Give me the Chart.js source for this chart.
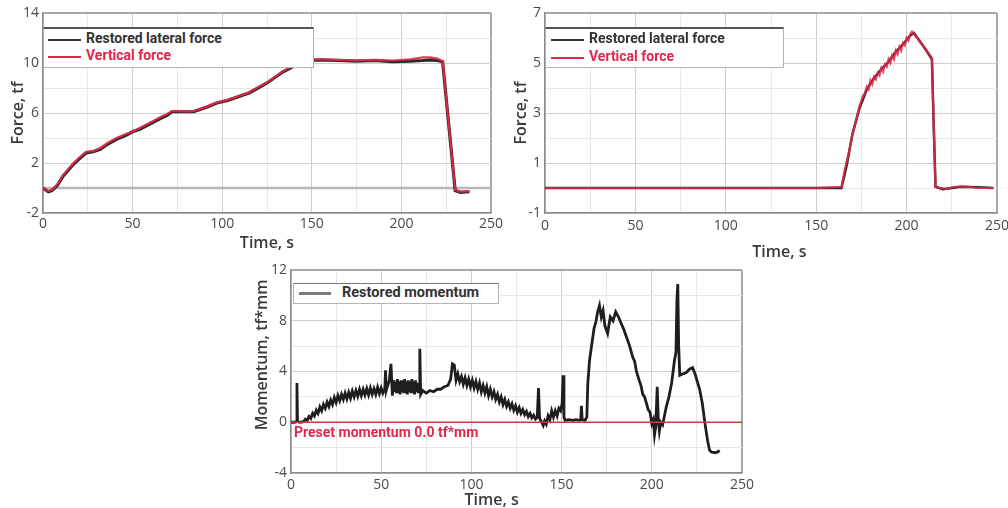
<!DOCTYPE html>
<html>
<head>
<meta charset="utf-8">
<script src="https://cdn.jsdelivr.net/npm/chart.js@4.4.1/dist/chart.umd.min.js"></script>
<style>
  body { margin: 0; width: 1008px; height: 508px; overflow: hidden; background: #fff; }
  canvas { position: absolute; }
  .legend { position: absolute; background: #fff; border: 1px solid #b4b4b4; border-top: 2px solid #555; box-sizing: border-box; }
  .item { position: absolute; white-space: nowrap; font-family: Roboto, sans-serif; font-weight: bold; }
  .swatch { position: absolute; height: 2px; }
  .note { position: absolute; white-space: nowrap; font: bold 14px Roboto, sans-serif; color: #e0284a; }
</style>
</head>
<body>
<canvas id="lateralChart" width="510" height="255" style="left:0;top:0"></canvas>
<canvas id="verticalChart" width="520" height="262" style="left:500px;top:0"></canvas>
<canvas id="momentChart" width="520" height="253" style="left:240px;top:255px"></canvas>

<div class="legend" style="left:43px;top:27px;width:271px;height:41px">
  <div class="swatch" style="left:4px;top:10px;width:33px;background:#333"></div>
  <div class="item" style="left:42px;top:1px;font-size:14px;color:#333">Restored lateral force</div>
  <div class="swatch" style="left:4px;top:27px;width:33px;background:#e0284a"></div>
  <div class="item" style="left:42px;top:18px;font-size:14px;color:#e0284a">Vertical force</div>
</div>
<div class="legend" style="left:545px;top:27px;width:239px;height:41px">
  <div class="swatch" style="left:5px;top:10px;width:33px;background:#333"></div>
  <div class="item" style="left:43px;top:1px;font-size:14px;color:#333">Restored lateral force</div>
  <div class="swatch" style="left:5px;top:28px;width:33px;background:#e0284a"></div>
  <div class="item" style="left:43px;top:19px;font-size:14px;color:#e0284a">Vertical force</div>
</div>
<div class="legend" style="left:293px;top:283px;width:206px;height:21px;border-top:1px solid #777">
  <div class="swatch" style="left:5px;top:8px;width:32px;height:3px;background:#7a7a7a"></div>
  <div class="item" style="left:48px;top:0px;font-size:14.5px;color:#333">Restored momentum</div>
</div>
<div class="note" style="left:294px;top:424px">Preset momentum 0.0 tf*mm</div>

<script>
// Time (s) / value pairs
const lateralForce1 = [
  [0, 0], [3, -0.3], [5, -0.2], [8, 0.2], [11, 0.9], [14, 1.4], [17, 1.9], [20, 2.3], [24, 2.8],
  [28, 2.9], [32, 3.1], [36, 3.5], [41, 3.9], [46, 4.2], [50, 4.5], [54, 4.7], [58, 5.0], [62, 5.3],
  [66, 5.6], [69, 5.8], [72, 6.1], [76, 6.1], [80, 6.1], [84, 6.1], [88, 6.3], [92, 6.5], [97, 6.8],
  [103, 7.0], [109, 7.3], [115, 7.6], [120, 8.0], [125, 8.4], [130, 8.9], [134, 9.3], [138, 9.6],
  [143, 10.0], [148, 10.2], [155, 10.25], [165, 10.2], [175, 10.15], [185, 10.2], [195, 10.1],
  [205, 10.15], [212, 10.2], [216, 10.25], [220, 10.2], [223, 10.1], [230, -0.2], [233, -0.35], [238, -0.3]
];
const verticalForce1 = [
  [0, 0], [3, -0.25], [5, -0.15], [8, 0.3], [11, 1.0], [14, 1.5], [17, 2.0], [20, 2.4], [24, 2.9],
  [28, 2.95], [32, 3.2], [36, 3.6], [41, 4.0], [46, 4.3], [50, 4.5], [54, 4.8], [58, 5.1], [62, 5.4],
  [66, 5.7], [69, 5.9], [72, 6.15], [76, 6.15], [80, 6.1], [84, 6.15], [88, 6.35], [92, 6.55], [97, 6.85],
  [103, 7.05], [109, 7.35], [115, 7.65], [120, 8.05], [125, 8.45], [130, 8.95], [134, 9.35], [138, 9.65],
  [143, 10.05], [148, 10.25], [155, 10.3], [165, 10.25], [175, 10.2], [185, 10.25], [195, 10.2],
  [205, 10.3], [212, 10.45], [216, 10.45], [220, 10.35], [223, 10.15], [230, -0.15], [233, -0.3], [238, -0.25]
];
const zeroLine1 = [[0, 0], [250, 0]];

const verticalForce2 = [
  [0, 0], [40, 0], [80, 0], [120, 0], [150, 0], [164, 0.05], [166, 0.8], [168, 1.4], [170, 2.1],
  [172, 2.7], [174, 3.3], [176, 3.7], [177, 3.8], [178, 4.05], [179, 3.95], [180, 4.3], [181, 4.15],
  [182, 4.45], [183, 4.35], [184, 4.6], [185, 4.5], [186, 4.8], [187, 4.65], [188, 4.95], [189, 4.85],
  [190, 5.15], [191, 5.0], [192, 5.3], [193, 5.15], [194, 5.5], [195, 5.35], [196, 5.65], [197, 5.5],
  [198, 5.8], [199, 5.7], [200, 6.0], [201, 5.9], [202, 6.15], [203, 6.25], [204, 6.15], [206, 6.0],
  [208, 5.8], [210, 5.6], [212, 5.4], [214, 5.2], [215, 2.5], [216, 0.05], [218, 0], [222, -0.03],
  [226, 0.04], [230, 0.06], [234, 0.05], [238, 0.02], [242, 0], [248, 0]
];
const lateralForce2 = [
  [0, 0], [50, 0], [100, 0], [150, 0], [164, 0], [167, 0.95], [170, 2.15], [174, 3.2], [178, 3.95],
  [182, 4.4], [186, 4.75], [190, 5.05], [194, 5.45], [198, 5.75], [202, 6.1], [204, 6.2], [206, 6.0],
  [210, 5.6], [214, 5.15], [215, 2.5], [216, 0.05], [220, -0.05], [230, 0.05], [240, 0.03], [248, 0]
];

const momentum3 = [
  [0, 0], [2, 0], [3, 0.05], [3.3, 3.1], [3.6, 0.05], [5, 0], [7, 0.05], [8, 0.25], [9, 0.15],
  [10, 0.45], [11, 0.3], [12, 0.7], [13, 0.5], [14, 0.95], [15, 0.7], [16, 1.2], [17, 0.9], [18, 1.4],
  [19, 1.1], [20, 1.6], [21, 1.25], [22, 1.75], [23, 1.4], [24, 1.95], [25, 1.55], [26, 2.1], [27, 1.7],
  [28, 2.2], [29, 1.8], [30, 2.3], [31, 1.85], [32, 2.35], [33, 1.9], [34, 2.45], [35, 2.0], [36, 2.5],
  [37, 2.05], [38, 2.6], [39, 2.1], [40, 2.6], [41, 2.15], [42, 2.65], [43, 2.15], [44, 2.7], [45, 2.2],
  [46, 2.65], [47, 2.2], [48, 2.75], [49, 2.25], [50, 2.7], [51, 2.3], [52, 2.6], [52.4, 4.1], [52.8, 2.5],
  [53.6, 2.9], [54.5, 3.3], [55.4, 4.6], [56.2, 2.1], [57, 3.3], [57.5, 2.4], [58, 3.2], [58.5, 2.3],
  [59, 3.4], [59.5, 2.3], [60, 3.2], [60.5, 2.2], [61, 3.3], [61.5, 2.4], [62, 3.3], [62.5, 2.3],
  [63, 3.4], [63.5, 2.3], [64, 3.2], [64.5, 2.2], [65, 3.3], [65.5, 2.4], [66, 3.2], [66.5, 2.3],
  [67, 3.4], [67.5, 2.3], [68, 3.2], [68.5, 2.2], [69, 3.3], [69.5, 2.4], [70, 3.1], [70.5, 2.3],
  [71, 3.0], [71.4, 5.8], [71.9, 2.2], [73, 2.5], [75, 2.3], [77, 2.5], [79, 2.4], [81, 2.6],
  [83, 2.6], [85, 2.8], [87, 2.9], [88.5, 3.4], [89.5, 4.6], [90.5, 4.5], [91.5, 3.3], [92.5, 3.8],
  [93.5, 3.2], [94.5, 3.6], [95.5, 3.0], [96.5, 3.5], [97.5, 2.9], [98.5, 3.4], [99.5, 2.8], [100.5, 3.3],
  [101.5, 2.7], [102.5, 3.2], [103.5, 2.6], [104.5, 3.1], [105.5, 2.4], [106.5, 2.9], [107.5, 2.3],
  [108.5, 2.8], [109.5, 2.1], [110.5, 2.6], [111.5, 2.0], [112.5, 2.4], [113.5, 1.8], [114.5, 2.2],
  [115.5, 1.6], [116.5, 2.0], [117.5, 1.4], [118.5, 1.8], [119.5, 1.25], [120.5, 1.6], [121.5, 1.1],
  [122.5, 1.45], [123.5, 0.95], [124.5, 1.3], [125.5, 0.8], [126.5, 1.15], [127.5, 0.7], [128.5, 1.0],
  [129.5, 0.6], [130.5, 0.85], [131.5, 0.45], [132.5, 0.7], [133.5, 0.35], [134.5, 0.55], [135.5, 0.25],
  [136.5, 0.4], [137.2, 2.7], [137.8, 0.3], [139, 0.0], [139.8, -0.25], [140.6, 0.1], [141.5, -0.15],
  [142.5, 0.5], [143.5, 0.2], [144.5, 0.9], [145.5, 0.4], [146.5, 0.9], [147.5, 0.5], [148.5, 1.1],
  [149.5, 0.9], [150.3, 1.5], [150.8, 3.7], [151.3, 0.4], [152, 0.15], [154, 0.2], [156, 0.15],
  [158, 0.2], [160, 0.15], [160.6, 0.2], [161, 1.3], [161.4, 0.2], [163, 0.15], [164, 0.4], [164.5, 3.0],
  [165.5, 4.9], [167, 6.4], [168, 7.4], [169, 7.9], [170, 8.7], [171, 9.2], [172, 8.3], [173, 8.8],
  [174, 7.6], [175.5, 7.0], [177, 8.3], [178.5, 8.0], [180, 8.7], [181.5, 8.3], [183, 7.8], [184.5, 7.3],
  [186, 6.7], [187.5, 6.1], [188.5, 5.6], [189.5, 5.1], [190.5, 4.8], [191.5, 4.0], [193, 3.3],
  [194, 2.9], [195, 2.2], [196, 2.0], [197, 1.5], [198, 1.0], [199, 0.8], [200, -0.1], [200.8, 0.2],
  [201.5, -1.0], [202.2, -0.3], [203, 2.8], [203.6, 0.2], [204.2, -0.7], [205, 0.0], [206, -0.2],
  [207, 0.5], [208, 1.2], [209.5, 2.0], [211, 3.1], [212.6, 4.9], [213.4, 5.5], [213.9, 9.5],
  [214.4, 10.9], [214.9, 6.0], [215.5, 3.7], [217, 3.8], [219, 3.9], [221, 4.2], [222.6, 4.3],
  [224, 3.8], [226.5, 2.6], [228, 1.5], [229, 0.4], [230, -0.6], [231, -1.5], [232, -2.2],
  [233, -2.35], [235, -2.4], [236.5, -2.35], [237.5, -2.2]
];
const presetMomentum3 = [[0, 0], [250, 0]];

const tickFont = { family: "Open Sans", size: 14 };
const titleFont = { family: "Open Sans", size: 16, weight: "600", lineHeight: 1 };

function toPoints(pairs) {
  return pairs.map(([x, y]) => ({ x: x, y: y }));
}

function gridColor(isMajor, isEdge) {
  if (isEdge) return "#a8a8a8";
  return isMajor ? "#cfcfcf" : "#e8e8e8";
}

function buildChart(id, datasets, cfg) {
  new Chart(document.getElementById(id), {
    type: "line",
    data: { datasets: datasets },
    options: {
      responsive: false,
      animation: false,
      events: [],
      layout: { padding: cfg.padding },
      plugins: { legend: { display: false }, tooltip: { enabled: false } },
      elements: { point: { radius: 0 }, line: { tension: 0 } },
      scales: {
        x: {
          type: "linear",
          min: 0,
          max: 250,
          afterFit: (s) => { s.height = cfg.xHeight; },
          ticks: {
            stepSize: 25, autoSkip: false, maxRotation: 0, padding: cfg.xTickPad,
            color: "#4a4a4a", font: tickFont,
            callback: (v) => (v % 50 === 0 ? v : "")
          },
          grid: {
            drawTicks: false,
            color: (c) => gridColor(c.tick.value % 50 === 0, c.tick.value === 250),
            lineWidth: (c) => (c.tick.value === 250 ? 2 : 1)
          },
          border: { color: "#8a8a8a", width: 1.5 },
          title: {
            display: true, text: cfg.xTitle, color: "#3a3a3a", font: titleFont,
            padding: { top: 0, bottom: cfg.xTitlePad }
          }
        },
        y: {
          min: cfg.yMin,
          max: cfg.yMax,
          afterFit: (s) => { s.width = cfg.yWidth; },
          ticks: {
            stepSize: cfg.yStep, autoSkip: false, padding: 4,
            color: "#4a4a4a", font: tickFont,
            callback: (v) => ((v - cfg.yMin) % cfg.yLabelStep === 0 ? v : "")
          },
          grid: {
            drawTicks: false,
            color: (c) => gridColor((c.tick.value - cfg.yMin) % cfg.yLabelStep === 0, c.tick.value === cfg.yMax),
            lineWidth: (c) => (c.tick.value === cfg.yMax ? 2 : 1)
          },
          border: { color: "#8a8a8a", width: 1.5 },
          title: {
            display: true, text: cfg.yTitle, color: "#3a3a3a", font: titleFont,
            padding: { top: cfg.yTitlePad, bottom: 0 }
          }
        }
      }
    }
  });
}

// Top left: lateral force test
buildChart("lateralChart", [
  { data: toPoints(verticalForce1), borderColor: "rgba(226,40,72,0.9)", borderWidth: 2.2 },
  { data: toPoints(lateralForce1), borderColor: "#2a2a2a", borderWidth: 3.2 },
  { data: toPoints(zeroLine1), borderColor: "#b8b8b8", borderWidth: 2.5 }
], {
  padding: { top: 13, right: 19, bottom: 0, left: 0 },
  xHeight: 42, yWidth: 43, xTickPad: 3, xTitlePad: 4, yTitlePad: 10,
  yMin: -2, yMax: 14, yStep: 2, yLabelStep: 4,
  xTitle: "Time, s", yTitle: "Force, tf"
});

// Top right: vertical force test
buildChart("verticalChart", [
  { data: toPoints(verticalForce2), borderColor: "rgba(226,40,72,0.85)", borderWidth: 2.2 },
  { data: toPoints(lateralForce2), borderColor: "#2a2a2a", borderWidth: 2.5 }
], {
  padding: { top: 13, right: 23, bottom: 0, left: 0 },
  xHeight: 49, yWidth: 45, xTickPad: 5, xTitlePad: 2, yTitlePad: 13,
  yMin: -1, yMax: 7, yStep: 1, yLabelStep: 2,
  xTitle: "    Time, s", yTitle: "Force, tf"
});

// Bottom: momentum
buildChart("momentChart", [
  { data: toPoints(presetMomentum3), borderColor: "#d23a3a", borderWidth: 1.5 },
  { data: toPoints(momentum3), borderColor: "#1e1e1e", borderWidth: 2.8 }
], {
  padding: { top: 15, right: 18, bottom: 0, left: 0 },
  xHeight: 35, yWidth: 51, xTickPad: 4, xTitlePad: 0, yTitlePad: 14,
  yMin: -4, yMax: 12, yStep: 2, yLabelStep: 4,
  xTitle: "Time, s            ", yTitle: "        Momentum, tf*mm"
});
</script>
</body>
</html>
